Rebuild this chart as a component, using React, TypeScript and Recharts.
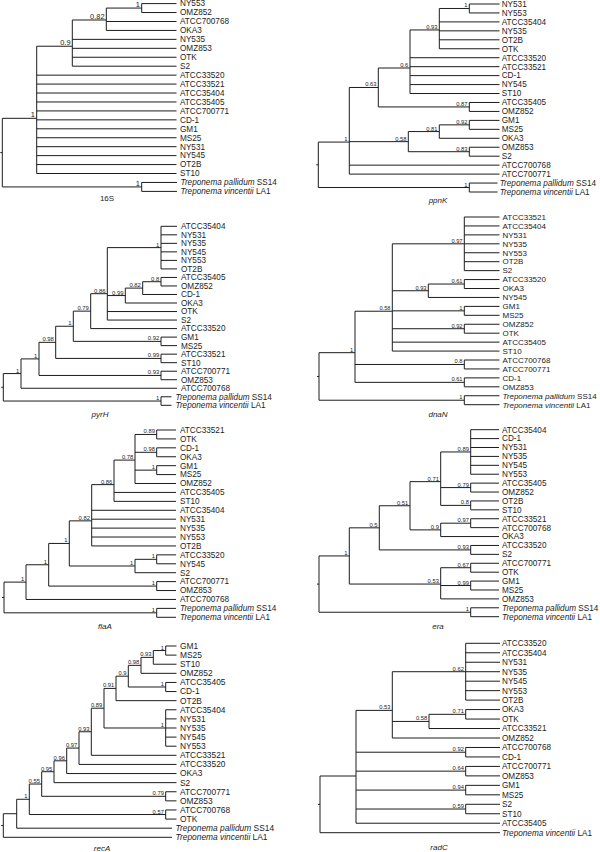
import { ComposedChart, XAxis, YAxis, Scatter, ReferenceLine } from "recharts";

type Clade = { x: number; s: string; c: TreeNode[] };
type TreeNode = string | Clade;

// x = horizontal depth of the node, s = support value
const clade = (x: number, s: string, ...c: TreeNode[]): Clade => ({ x, s, c });

const TP = "Treponema pallidum SS14";
const TV = "Treponema vincentii LA1";

const tree16S = clade(2.3, "",
  clade(36.7, "1",
    clade(72.3, "0.9",
      clade(106.3, "0.82", clade(141.7, "1", "NY553", "OMZ852"), "ATCC700768", "OKA3"),
      "NY535", "OMZ853", "OTK", "S2"),
    "ATCC33520", "ATCC33521", "ATCC35404", "ATCC35405", "ATCC700771", "CD-1",
    "GM1", "MS25", "NY531", "NY545", "OT2B", "ST10"),
  clade(141.7, "1", TP, TV));

const treePpnK = clade(18.3, "",
  clade(49.3, "1",
    clade(78.3, "0.63",
      clade(110, "0.6",
        clade(139.3, "0.93", clade(169.3, "1", "NY531", "NY553"), "ATCC35404", "NY535", "OT2B", "OTK"),
        "ATCC33520", "ATCC33521", "CD-1", "NY545", "ST10"),
      clade(169.3, "0.87", "ATCC35405", "OMZ852")),
    clade(108.3, "0.58",
      clade(139.3, "0.81", clade(169.3, "0.92", "GM1", "MS25"), "OKA3"),
      clade(169.3, "0.83", "OMZ853", "S2")),
    "ATCC700768", "ATCC700771"),
  clade(169.3, "1", TP, TV));

const treePyrH = clade(3.3, "",
  clade(21, "1",
    clade(39, "1",
      clade(55.7, "0.98",
        clade(73.3, "1",
          clade(90.7, "0.79",
            clade(107.3, "0.86",
              clade(161, "1", "ATCC35404", "NY531", "NY535", "NY545", "NY553", "OT2B"),
              clade(125.3, "0.99",
                clade(142.7, "0.82", clade(161, "0.8", "ATCC35405", "OMZ852"), "CD-1"),
                "OKA3"),
              "OTK", "S2"),
            "ATCC33520"),
          clade(161, "0.92", "GM1", "MS25")),
        clade(161, "0.99", "ATCC33521", "ST10")),
      clade(161, "0.93", "ATCC700771", "OMZ853")),
    "ATCC700768"),
  clade(161, "1", TP, TV));

const treeDnaN = clade(19, "",
  clade(55, "1",
    clade(92.3, "0.58",
      clade(164.3, "0.97", "ATCC33521", "ATCC35404", "NY531", "NY535", "NY553", "OT2B", "S2"),
      clade(128.3, "0.93", clade(164.3, "0.61", "ATCC33520", "OKA3"), "NY545"),
      clade(164.3, "1", "GM1", "MS25"),
      clade(164.3, "0.92", "OMZ852", "OTK"),
      "ATCC35405", "ST10"),
    clade(164.3, "0.8", "ATCC700768", "ATCC700771"),
    clade(164.3, "0.61", "CD-1", "OMZ853")),
  clade(164.3, "1", TP, TV));

const treeFlaA = clade(4, "",
  clade(26, "1",
    clade(48.7, "1",
      clade(69.3, "1",
        clade(91.7, "0.82",
          clade(114, "0.86",
            clade(135, "0.78",
              clade(156.7, "0.89", "ATCC33521", "OTK"),
              clade(156.7, "0.98", "CD-1", "OKA3"),
              clade(156.7, "1", "GM1", "MS25"),
              "OMZ852"),
            "ATCC35405", "ST10"),
          "ATCC35404", "NY531", "NY535", "NY553", "OT2B"),
        clade(135, "1", clade(156.7, "1", "ATCC33520", "NY545"), "S2")),
      clade(156.7, "1", "ATCC700771", "OMZ853")),
    "ATCC700768"),
  clade(156.7, "1", TP, TV));

const treeEra = clade(19, "",
  clade(49.3, "1",
    clade(79.3, "0.5",
      clade(110, "0.51",
        clade(140.7, "0.71",
          clade(170.7, "0.89", "ATCC35404", "CD-1", "NY531", "NY535", "NY545", "NY553"),
          clade(170.7, "0.79", "ATCC35405", "OMZ852"),
          clade(170.7, "0.8", "OT2B", "ST10")),
        clade(140.7, "0.9", clade(170.7, "0.97", "ATCC33521", "ATCC700768"), "OKA3")),
      clade(170.7, "0.93", "ATCC33520", "S2")),
    clade(140.7, "0.53",
      clade(170.7, "0.67", "ATCC700771", "OTK"),
      clade(170.7, "0.99", "GM1", "MS25"),
      "OMZ853")),
  clade(170.7, "1", TP, TV));

const treeRecA = clade(3.3, "",
  clade(16.7, "",
    clade(29.3, "1",
      clade(41.7, "0.55",
        clade(54, "0.95",
          clade(66.7, "0.96",
            clade(79, "0.97",
              clade(91.3, "0.93",
                clade(104, "0.89",
                  clade(116, "0.91",
                    clade(128.3, "0.9",
                      clade(141, "0.98",
                        clade(153.3, "0.93", clade(165.7, "1", "GM1", "MS25"), "ST10"),
                        "OMZ852"),
                      clade(165.7, "1", "ATCC35405", "CD-1")),
                    "OT2B"),
                  clade(165.7, "1", "ATCC35404", "NY531", "NY535", "NY545", "NY553")),
                "ATCC33521"),
              "ATCC33520"),
            "OKA3"),
          "S2"),
        clade(165.7, "0.79", "ATCC700771", "OMZ853")),
      clade(165.7, "0.57", "ATCC700768", "OTK")),
    TP),
  TV);

const treeRadC = clade(20, "",
  clade(56, "",
    clade(92.3, "0.53",
      clade(165.7, "0.62", "ATCC33520", "ATCC35404", "NY531", "NY535", "NY545", "NY553", "OT2B"),
      clade(129, "0.58", clade(165.7, "0.71", "OKA3", "OTK"), "ATCC33521"),
      "OMZ852"),
    clade(165.7, "0.92", "ATCC700768", "CD-1"),
    clade(165.7, "0.64", "ATCC700771", "OMZ853"),
    clade(165.7, "0.94", "GM1", "MS25"),
    clade(165.7, "0.59", "S2", "ST10"),
    "ATCC35405"),
  TV);

// panel placement on the 600x852 page; tpShift moves the outgroup tips/labels
const panels = [
  { tree: tree16S, title: "16S", italic: false, left: 0, top: 0, h: 212, firstY: 3.6, lastY: 191.4, tipX: 176.5, labelX: 180, tpShift: 0.5, titleX: 107, titleY: 198, leafFont: 8.2, supFont: 7.4 },
  { tree: treePpnK, title: "ppnK", italic: true, left: 300, top: 0, h: 212, firstY: 4, lastY: 192, tipX: 199.5, labelX: 201.7, tpShift: -2, titleX: 138, titleY: 200, leafFont: 8.2, supFont: 5.8 },
  { tree: treePyrH, title: "pyrH", italic: true, left: 0, top: 212, h: 212, firstY: 226.3, lastY: 405.3, tipX: 177, labelX: 181, tpShift: -5.5, titleX: 100, titleY: 414, leafFont: 8.2, supFont: 5.9 },
  { tree: treeDnaN, title: "dnaN", italic: true, left: 300, top: 212, h: 212, firstY: 217, lastY: 404.7, tipX: 199.5, labelX: 202.5, tpShift: 0, titleX: 138, titleY: 414, leafFont: 8, supFont: 5.7 },
  { tree: treeFlaA, title: "flaA", italic: true, left: 0, top: 424, h: 212, firstY: 430, lastY: 617.3, tipX: 176, labelX: 180, tpShift: 0, titleX: 105, titleY: 626, leafFont: 8.2, supFont: 5.8 },
  { tree: treeEra, title: "era", italic: true, left: 300, top: 424, h: 212, firstY: 429.7, lastY: 616.7, tipX: 199, labelX: 202, tpShift: 0, titleX: 138, titleY: 626, leafFont: 8.2, supFont: 5.8 },
  { tree: treeRecA, title: "recA", italic: true, left: 0, top: 636, h: 216, firstY: 646, lastY: 837.3, tipX: 176.5, labelX: 180, tpShift: -4.5, titleX: 102, titleY: 848, leafFont: 8.4, supFont: 5.8 },
  { tree: treeRadC, title: "radC", italic: true, left: 300, top: 636, h: 216, firstY: 643.3, lastY: 832.7, tipX: 200, labelX: 202, tpShift: 0, titleX: 139, titleY: 847, leafFont: 8.2, supFont: 5.8 },
];

const FONT = "'Liberation Sans', Arial, sans-serif";
const INK = "#1c1c1c";

function layoutTree(root: Clade, tipX: number, labelX: number, tpShift: number) {
  const leaves: { x: number; y: number; name: string }[] = [];
  const segs: { x1: number; y1: number; x2: number; y2: number }[] = [];
  const supports: { x: number; y: number; text: string }[] = [];

  const place = (node: TreeNode): { x: number; y: number } => {
    if (typeof node === "string") {
      const y = leaves.length;
      const shift = node.startsWith("Treponema") ? tpShift : 0;
      leaves.push({ x: labelX + shift, y, name: node });
      return { x: tipX + shift, y };
    }
    const kids = node.c.map(place);
    const y = kids.reduce((a, k) => a + k.y, 0) / kids.length;
    const ys = kids.map((k) => k.y);
    segs.push({ x1: node.x, y1: Math.min(...ys), x2: node.x, y2: Math.max(...ys) });
    kids.forEach((k) => segs.push({ x1: node.x, y1: k.y, x2: k.x, y2: k.y }));
    if (node.s) supports.push({ x: node.x, y, text: node.s });
    return { x: node.x, y };
  };

  const r = place(root);
  // small stub on the root
  segs.push({ x1: r.x - 2, y1: r.y, x2: r.x, y2: r.y });
  return { leaves, segs, supports };
}

function LeafText(props: any) {
  const { cx, cy, payload, fontSize } = props;
  const name: string = payload.name;
  if (name.startsWith("Treponema")) {
    const parts = name.split(" ");
    return (
      <text x={cx} y={cy} dy="0.35em" fontSize={fontSize} fontFamily={FONT} fill={INK}>
        <tspan fontStyle="italic">{parts[0] + " " + parts[1]}</tspan>
        <tspan>{" " + parts[2]}</tspan>
      </text>
    );
  }
  return (
    <text x={cx} y={cy} dy="0.35em" fontSize={fontSize} fontFamily={FONT} fill={INK}>
      {name}
    </text>
  );
}

function SupportText(props: any) {
  const { cx, cy, payload, fontSize } = props;
  return (
    <text x={cx - 1.8} y={cy - 1} textAnchor="end" fontSize={fontSize} fontFamily={FONT} fill={INK}>
      {payload.text}
    </text>
  );
}

function TitleText(props: any) {
  const { cx, cy, payload, italic } = props;
  return (
    <text x={cx} y={cy} dy="0.35em" textAnchor="middle" fontSize={8} fontFamily={FONT}
      fontStyle={italic ? "italic" : "normal"} fill={INK}>
      {payload.text}
    </text>
  );
}

function TreePanel({ p }: { p: (typeof panels)[number] }) {
  const { leaves, segs, supports } = layoutTree(p.tree, p.tipX, p.labelX, p.tpShift);
  const n = leaves.length;
  const step = (p.lastY - p.firstY) / (n - 1);
  const d0 = -(p.firstY - p.top) / step;
  const d1 = n - 1 + (p.top + p.h - p.lastY) / step;
  const titleData = [{ x: p.titleX, y: (p.titleY - p.firstY) / step, text: p.title }];

  return (
    <div style={{ position: "absolute", left: p.left, top: p.top }}>
      <ComposedChart width={300} height={p.h} margin={{ top: 0, right: 0, bottom: 0, left: 0 }}>
        <XAxis type="number" dataKey="x" domain={[0, 300]} allowDataOverflow hide />
        <YAxis type="number" dataKey="y" domain={[d0, d1]} allowDataOverflow reversed hide />
        {segs.map((s, i) => (
          <ReferenceLine
            key={i}
            segment={[{ x: s.x1, y: s.y1 }, { x: s.x2, y: s.y2 }]}
            stroke={INK}
            strokeWidth={1}
            ifOverflow="visible"
          />
        ))}
        <Scatter data={leaves} isAnimationActive={false}
          shape={(props: any) => <LeafText {...props} fontSize={p.leafFont} />} />
        <Scatter data={supports} isAnimationActive={false}
          shape={(props: any) => <SupportText {...props} fontSize={p.supFont} />} />
        <Scatter data={titleData} isAnimationActive={false}
          shape={(props: any) => <TitleText {...props} italic={p.italic} />} />
      </ComposedChart>
    </div>
  );
}

export default function App() {
  return (
    <div style={{ position: "absolute", left: 0, top: 0, width: 600, height: 852, background: "#fff" }}>
      {panels.map((p) => (
        <TreePanel key={p.title} p={p} />
      ))}
    </div>
  );
}
